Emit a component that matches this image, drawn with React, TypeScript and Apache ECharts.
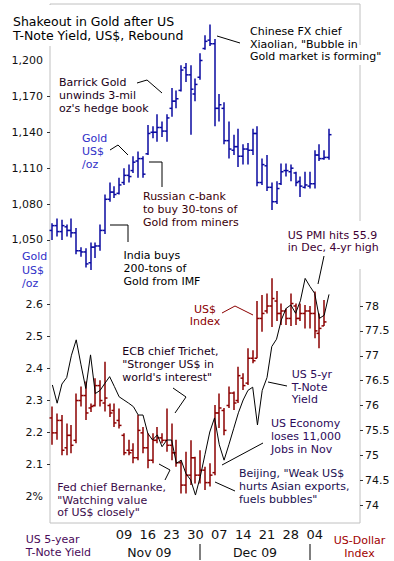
import React, { useEffect, useRef } from "react";
import * as echarts from "echarts";

// Trading-day categories (weekdays) Oct 19 2009 – Jan 15 2010
const categories = [
  "10-19","10-20","10-21","10-22","10-23","10-26","10-27","10-28","10-29","10-30",
  "11-02","11-03","11-04","11-05","11-06","11-09","11-10","11-11","11-12","11-13",
  "11-16","11-17","11-18","11-19","11-20","11-23","11-24","11-25","11-26","11-27",
  "11-30","12-01","12-02","12-03","12-04","12-07","12-08","12-09","12-10","12-11",
  "12-14","12-15","12-16","12-17","12-18","12-21","12-22","12-23","12-24","12-25",
  "12-28","12-29","12-30","12-31","01-01","01-04","01-05","01-06","01-07","01-08",
  "01-11","01-12","01-13","01-14","01-15",
];
const dayTickLabels = ["11-09","11-16","11-23","11-30","12-07","12-14","12-21","12-28","01-04"];

// Gold US$/oz OHLC
const goldOpen = [1058,1062,1057,1061,1058,1056,1041,1040,1031,1044,1045,1058,1084,1090,1089,1098,1104,1108,1116,1118,1122,1140,1140,1144,1141,1160,1166,1175,1194,1188,1172,1186,1210,1217,1214,1160,1160,1133,1125,1128,1120,1126,1125,1139,1098,1112,1094,1082,1097,1108,1107,1106,1099,1094,1095,1097,1121,1118,1119];
const goldHigh = [1064,1068,1067,1063,1068,1060,1044,1043,1048,1048,1063,1088,1098,1095,1102,1110,1113,1120,1124,1120,1146,1145,1155,1149,1155,1177,1175,1196,1198,1196,1185,1206,1221,1230,1218,1172,1165,1149,1138,1143,1130,1131,1143,1145,1118,1121,1098,1099,1114,1114,1113,1107,1103,1107,1107,1125,1130,1125,1143];
const goldLow = [1050,1053,1050,1053,1052,1038,1036,1027,1025,1035,1041,1055,1082,1085,1088,1096,1098,1106,1102,1102,1121,1135,1132,1136,1132,1153,1160,1174,1182,1138,1166,1184,1209,1212,1145,1149,1130,1118,1121,1111,1113,1113,1121,1095,1096,1091,1075,1080,1096,1103,1099,1095,1086,1093,1093,1093,1116,1117,1117];
const goldClose = [1062,1057,1062,1058,1056,1041,1040,1030,1044,1045,1058,1084,1090,1088,1096,1104,1103,1115,1118,1105,1139,1140,1144,1141,1152,1166,1168,1192,1188,1176,1180,1200,1216,1214,1160,1163,1133,1126,1128,1120,1126,1125,1139,1098,1113,1094,1082,1093,1107,1108,1110,1098,1095,1096,1097,1121,1118,1119,1138];

// US 5-year T-Note yield (%)
const yieldVals = [2.347,2.29,2.35,2.37,2.44,2.488,2.41,2.336,2.441,2.32,2.33,2.352,2.373,2.342,2.31,2.3,2.29,2.279,2.253,2.253,2.196,2.175,2.191,2.154,2.175,2.175,2.102,2.112,2.07,2.05,2.003,2.06,2.13,2.2,2.244,2.16,2.112,2.16,2.21,2.26,2.3,2.33,2.34,2.222,2.33,2.37,2.467,2.49,2.55,2.586,2.597,2.571,2.61,2.68,2.655,2.633,2.555,2.565,2.63];

// US Dollar Index OHLC
const usdOpen = [75.75,75.45,75.7,75.15,75.4,75.3,76.1,76.2,75.95,76.0,76.4,76.05,76.0,75.9,75.7,75.4,75.1,75.1,74.95,75.45,75.15,74.9,75.3,75.35,75.3,75.2,75.05,74.85,74.4,74.6,74.95,74.6,74.7,74.45,74.65,75.85,75.9,76.0,76.25,76.1,76.55,76.45,76.95,76.95,77.75,77.9,78.0,78.1,77.85,77.9,77.75,78.0,77.75,77.85,77.9,77.85,77.45,77.6];
const usdHigh = [75.98,75.84,75.81,75.64,75.61,76.24,76.38,76.48,76.04,76.55,76.51,76.88,76.04,76.04,75.94,75.44,75.31,75.24,75.81,75.57,75.44,75.44,75.57,75.44,75.94,75.64,75.31,74.9,75.07,75.3,74.97,75.1,74.77,74.84,76.01,76.24,75.95,76.38,76.28,76.78,76.65,77.15,77.11,78.1,78.22,78.25,78.56,78.3,78.05,77.95,78.25,78.05,78.05,78.02,78.0,78.29,77.85,78.12];
const usdLow = [75.21,75.31,75.0,75.0,75.04,75.24,75.98,75.71,75.87,75.98,75.98,75.88,75.77,75.57,75.54,75.0,75.0,74.84,74.9,75.04,74.74,74.84,75.24,75.24,75.07,74.9,74.77,74.23,74.23,74.4,74.43,74.43,74.3,74.37,74.6,75.55,75.4,75.95,75.91,76.05,76.31,76.41,76.85,76.95,77.48,77.85,77.58,77.7,77.62,77.62,77.6,77.62,77.7,77.55,77.55,77.35,77.15,77.6];
const usdClose = [75.45,75.7,75.1,75.4,75.2,76.1,76.2,75.85,75.98,76.4,76.1,76.15,75.85,75.65,75.6,75.05,75.05,74.95,75.5,75.15,74.9,75.3,75.35,75.3,75.2,75.05,74.85,74.4,74.6,74.95,74.6,74.7,74.45,74.6,75.85,75.95,75.5,76.25,76.05,76.6,76.4,76.95,76.9,77.75,77.85,78.0,78.15,77.85,77.9,77.75,78.05,77.75,77.85,77.9,77.85,77.5,77.55,77.68];

const goldTicks = [1050, 1080, 1110, 1140, 1170, 1200];
const yieldTicks = [2.0, 2.1, 2.2, 2.3, 2.4, 2.5, 2.6];
const usdTicks = [74, 74.5, 75, 75.5, 76, 76.5, 77, 77.5, 78];

const FONT = "DejaVu Sans";
const GOLD_C = "#0a0aa0";
const USD_C = "#8b0000";
const BLUE_T = "#3030c8";

function ohlcRenderer(color: string) {
  return (params: any, api: any) => {
    const idx = api.value(0);
    const o = api.coord([idx, api.value(1)]);
    const h = api.coord([idx, api.value(2)]);
    const l = api.coord([idx, api.value(3)]);
    const c = api.coord([idx, api.value(4)]);
    const x = Math.round(h[0]);
    const w = 2.5;
    const style = { stroke: color, lineWidth: 1.5 };
    return {
      type: "group",
      children: [
        { type: "line", shape: { x1: x, y1: h[1], x2: x, y2: l[1] }, style },
        { type: "line", shape: { x1: x - w, y1: o[1], x2: x, y2: o[1] }, style },
        { type: "line", shape: { x1: x, y1: c[1], x2: x + w, y2: c[1] }, style },
      ],
    };
  };
}

function txt(text: string, x: number, top: number, fill: string, lh = 13, size = 11, align = "left", extra: any = {}) {
  return {
    type: "text",
    x,
    y: top,
    z: 20,
    style: {
      text,
      fill,
      fontSize: size,
      fontFamily: FONT,
      lineHeight: lh,
      textAlign: align,
      textVerticalAlign: "top",
      ...extra,
    },
  };
}

function pl(points: number[][], stroke = "#000") {
  return { type: "polyline", z: 20, shape: { points }, style: { stroke, lineWidth: 1, fill: "none" } };
}

function whiteRect(x: number, y: number, w: number, h: number) {
  return { type: "rect", z: 5, shape: { x, y, width: w, height: h }, style: { fill: "#fff" } };
}

export default function App() {
  const ref = useRef<HTMLDivElement>(null);
  useEffect(() => {
    if (!ref.current) return;
    const chart = echarts.init(ref.current, undefined, { renderer: "svg" });

    const goldData = goldOpen.map((o, i) => [i, o, goldHigh[i], goldLow[i], goldClose[i]]);
    const usdData = usdOpen.map((o, i) => [i, o, usdHigh[i], usdLow[i], usdClose[i]]);

    const option: any = {
      animation: false,
      textStyle: { fontFamily: FONT },
      grid: {
        left: 50, right: 34, top: 4, bottom: 38,
        show: true, borderColor: "#c0c0c0", borderWidth: 1, backgroundColor: "transparent",
      },
      xAxis: {
        type: "category",
        data: categories,
        boundaryGap: true,
        axisLine: { show: false },
        axisTick: { show: false },
        splitLine: { show: false },
        axisLabel: {
          interval: (_i: number, v: string) => dayTickLabels.includes(v),
          formatter: (v: string) => v.slice(3),
          fontSize: 13,
          color: "#111",
          margin: 5,
        },
      },
      yAxis: [
        {
          type: "value", position: "left", min: 813.5, max: 1247.2,
          axisLine: { show: false }, splitLine: { show: false },
          axisTick: { show: true, length: 3, lineStyle: { color: "#333" }, customValues: goldTicks.slice(0, 5) },
          axisLabel: {
            customValues: goldTicks, fontSize: 11, color: "#111", margin: 7,
            formatter: (v: number) => v.toLocaleString("en-US"),
          },
        },
        {
          type: "value", position: "left", min: 1.915625, max: 3.5375,
          axisLine: { show: false }, splitLine: { show: false },
          axisTick: { show: true, length: 3, lineStyle: { color: "#333" }, customValues: yieldTicks.slice(1) },
          axisLabel: {
            customValues: yieldTicks, fontSize: 11, color: "#111", margin: 7,
            formatter: (v: number) => (Math.abs(v - 2) < 1e-6 ? "2%" : v.toFixed(1)),
          },
        },
        {
          type: "value", position: "right", min: 73.6382, max: 84.0704,
          axisLine: { show: false }, splitLine: { show: false },
          axisTick: { show: true, length: 3, lineStyle: { color: "#333" }, customValues: usdTicks },
          axisLabel: {
            customValues: usdTicks, fontSize: 11, color: "#111", margin: 5,
            formatter: (v: number) => (Number.isInteger(v) ? String(v) : v.toFixed(1)),
          },
        },
      ],
      series: [
        {
          type: "custom", name: "Gold", yAxisIndex: 0, data: goldData,
          encode: { x: 0, y: [1, 2, 3, 4] }, renderItem: ohlcRenderer(GOLD_C), z: 3,
        },
        {
          type: "custom", name: "USD", yAxisIndex: 2, data: usdData,
          encode: { x: 0, y: [1, 2, 3, 4] }, renderItem: ohlcRenderer(USD_C), z: 3,
        },
        {
          type: "line", name: "Yield", yAxisIndex: 1, data: yieldVals,
          symbol: "none", lineStyle: { color: "#000", width: 1 }, z: 4,
        },
      ],
      graphic: [
        whiteRect(45, 5, 10, 41),
        whiteRect(355, 45, 10, 20),
        whiteRect(355, 221, 10, 48),
        txt("Shakeout in Gold after US\nT-Note Yield, US$, Rebound", 13, 14.5, "#000", 14, 12.5),
        txt("Barrick Gold\nunwinds 3-mil\noz's hedge book", 59, 75.5, "#1a0018"),
        pl([[137, 83], [147, 80], [162, 93]]),
        txt("Chinese FX chief\nXiaolian, \"Bubble in\nGold market is forming\"", 250, 25.5, "#000", 12.5),
        pl([[217, 36], [240, 43]]),
        txt("Gold\nUS$\n/oz", 82, 131.8, BLUE_T),
        pl([[110, 150], [118, 145], [128, 155]]),
        txt("Russian c-bank\nto buy 30-tons of\nGold from miners", 143, 189.5, "#3a0008"),
        pl([[149, 162], [162, 162], [162, 187]]),
        txt("India buys\n200-tons of\nGold from IMF", 123.5, 248.5, "#000"),
        pl([[110, 225], [128, 225], [128, 242]]),
        txt("Gold\nUS$\n/oz", 22, 250.2, BLUE_T, 13.3),
        txt("US PMI hits 55.9\nin Dec, 4-yr high", 287.7, 228.8, "#3d0033", 12.5),
        pl([[324, 256], [318, 284]]),
        txt("US$\nIndex", 205, 303, USD_C, 12.5, 11, "center"),
        pl([[222, 313], [235, 306], [253, 315]], USD_C),
        txt("ECB chief Trichet,\n\"Stronger US$ in\nworld's interest\"", 122.3, 345.2, "#1a0018"),
        pl([[173, 388], [186, 397], [175, 413]]),
        txt("US 5-yr\nT-Note\nYield", 291.7, 368.5, "#2d0a5a", 12.5),
        pl([[268, 382], [287, 386]]),
        txt("US Economy\nloses 11,000\nJobs in Nov", 271, 417, "#2d0a5a", 12.8),
        pl([[263, 443], [222, 465]]),
        txt("Beijing, \"Weak US$\nhurts Asian exports,\nfuels bubbles\"", 239, 467, "#1a1050"),
        pl([[215, 482], [235, 491]]),
        txt("Fed chief Bernanke,\n\"Watching value\nof US$ closely\"", 57.3, 481, "#3a0a4a", 12.7),
        pl([[159, 464], [170, 470], [165, 480]]),
        txt("US 5-year\nT-Note Yield", 25.7, 533, "#4a0a5a"),
        txt("US-Dollar\nIndex", 359.5, 534, "#a00000", 12.7, 11, "center"),
        txt("Nov 09", 149.3, 552, "#111", 14, 12.5, "center", { textVerticalAlign: "middle" }),
        txt("Dec 09", 255, 552.5, "#111", 14, 12.5, "center", { textVerticalAlign: "middle" }),
        pl([[200, 544], [200, 560]]),
        pl([[310, 544], [310, 560]]),
      ],
    };
    chart.setOption(option);
    return () => chart.dispose();
  }, []);
  return <div ref={ref} style={{ position: "absolute", left: 0, top: 0, width: 394, height: 561 }} />;
}
